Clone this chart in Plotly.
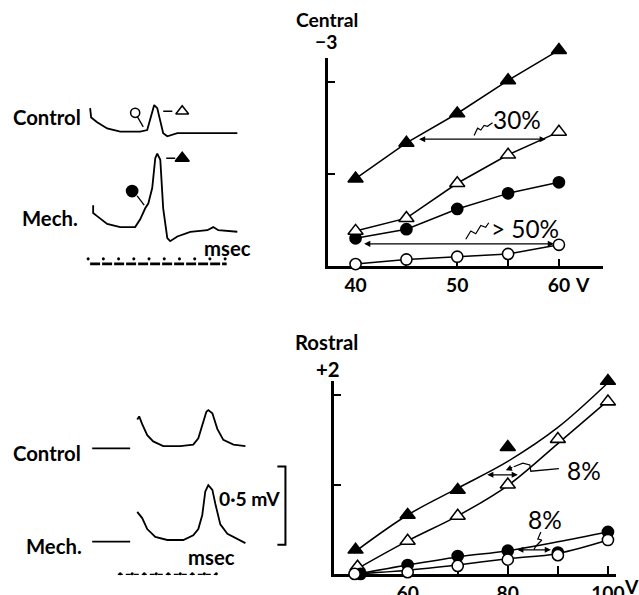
import plotly.graph_objects as go

# reference canvas (all positions below are read in this pixel frame)
REF_W, REF_H = 639, 595
S = 649 / 639          # the page comes out ~1.5% smaller than drawn; compensate
W, H = round(REF_W * S), round(REF_H * S)
FONT = "Lato"

# ---------------- Central (top right) ----------------
central_v = [40, 45, 50, 55, 60]
central_mech_peak = [0.95, 1.34, 1.66, 2.02, 2.35]    # filled triangles
central_ctrl_peak = [0.38, 0.52, 0.90, 1.21, 1.46]    # open triangles
central_mech_early = [0.30, 0.40, 0.62, 0.79, 0.91]   # filled circles
central_ctrl_early = [0.02, 0.07, 0.10, 0.13, 0.23]   # open circles
central_tickvals = [40, 45, 50, 55, 60]
central_ticktext = ["40", "", "50", "", "60"]

# ---------------- Rostral (bottom right) ----------------
rostral_mech_peak_v = [49.6, 60, 70, 80, 100]
rostral_mech_peak = [0.27, 0.66, 0.94, 1.42, 2.16]
rostral_ctrl_peak_v = [50, 60, 70, 80, 90, 100]
rostral_ctrl_peak = [0.08, 0.37, 0.65, 1.00, 1.51, 1.93]
rostral_mech_early_v = [50.6, 60, 70, 80, 90, 100]
rostral_mech_early = [0.0, 0.10, 0.20, 0.26, 0.24, 0.47]
rostral_ctrl_early_v = [49.4, 60, 70, 80, 90, 100]
rostral_ctrl_early = [0.0, 0.02, 0.09, 0.16, 0.21, 0.38]
# fitted curves drawn through the points
fit_v = [50, 60, 70, 80, 90, 100]
fit_mech_peak = [0.27, 0.66, 0.96, 1.26, 1.64, 2.14]
fit_ctrl_peak = [0.06, 0.37, 0.65, 0.99, 1.46, 1.94]
fit_mech_early = [0.0, 0.10, 0.19, 0.26, 0.36, 0.47]
fit_ctrl_early = [0.0, 0.04, 0.10, 0.17, 0.23, 0.38]
rostral_tickvals = [50, 60, 70, 80, 90, 100]
rostral_ticktext = ["", "60", "", "80", "", "100"]

# ---------------- Central records (top left), t in msec, v in mV ----------------
c_ctrl_t = [0.13, 0.20, 0.59, 1.25, 2.11, 3.42, 3.88, 4.21, 4.34, 4.54, 4.74, 4.93, 5.20, 5.86, 7.37, 9.80]
c_ctrl_v = [1.04, 0.98, 0.95, 0.91, 0.89, 0.89, 0.90, 1.01, 1.06, 1.04, 0.96, 0.88, 0.86, 0.88, 0.88, 0.88]
c_mech_t = [0.33, 0.33, 0.59, 1.25, 2.11, 3.09, 3.42, 3.75, 3.95, 4.21, 4.41, 4.54, 4.74, 4.93, 5.20, 5.39,
            5.86, 6.71, 7.83, 8.22, 8.55, 9.80]
c_mech_v = [0.42, 0.37, 0.35, 0.30, 0.28, 0.28, 0.33, 0.40, 0.43, 0.53, 0.72, 0.75, 0.71, 0.40, 0.21, 0.19,
            0.22, 0.25, 0.26, 0.28, 0.26, 0.25]
c_time_marks = [0, 1, 2, 3, 4, 5, 6, 7, 8, 9]

# ---------------- Rostral records (bottom left) ----------------
r_ctrl_t = [1.42, 1.58, 1.83, 2.25, 2.75, 3.58, 5.00, 6.08, 6.50, 6.83, 7.17, 7.33, 7.67, 8.08, 8.58, 9.42, 10.42]
r_ctrl_v = [1.07, 1.09, 1.04, 0.97, 0.93, 0.90, 0.90, 0.91, 0.95, 1.04, 1.12, 1.13, 1.11, 1.01, 0.94, 0.91, 0.90]
r_mech_t = [1.42, 1.83, 2.25, 2.92, 3.92, 5.25, 6.08, 6.50, 6.83, 7.08, 7.33, 7.67, 7.92, 8.33, 8.92, 10.42]
r_mech_v = [0.48, 0.44, 0.37, 0.32, 0.30, 0.30, 0.33, 0.37, 0.46, 0.61, 0.65, 0.62, 0.53, 0.40, 0.34, 0.28]
r_time_marks = [0, 1, 2, 3, 4, 5, 6, 7, 8]

BLACK = "black"
fig = go.Figure()


def sz(v):
    return v * S


def series(x, y, xa, ya, symbol, filled, size, mode="lines+markers", shape="linear"):
    fig.add_trace(go.Scatter(
        x=x, y=y, xaxis=xa, yaxis=ya, mode=mode, cliponaxis=False,
        line=dict(color=BLACK, width=sz(1.5), shape=shape),
        marker=dict(symbol=symbol, size=sz(size), color=BLACK if filled else "white",
                    line=dict(color=BLACK, width=sz(1.5))),
        showlegend=False, hoverinfo="skip"))


def line(x, y, xa, ya, width=1.5, dash="solid", shape="linear"):
    fig.add_trace(go.Scatter(x=x, y=y, xaxis=xa, yaxis=ya, mode="lines", cliponaxis=False,
                             line=dict(color=BLACK, width=sz(width), dash=dash, shape=shape),
                             showlegend=False, hoverinfo="skip"))


# invisible anchors so the framed axes are drawn
for xa, ya in (("x", "y"), ("x2", "y2")):
    fig.add_trace(go.Scatter(x=[None], y=[None], xaxis=xa, yaxis=ya, mode="markers",
                             showlegend=False, hoverinfo="skip"))

# Central plot (data on y5, which shares the scale of y but extends higher)
series(central_v, central_ctrl_early, "x", "y5", "circle", False, 11)
series(central_v, central_mech_early, "x", "y5", "circle", True, 11)
series(central_v, central_ctrl_peak, "x", "y5", "triangle-up", False, 13)
series(central_v, central_mech_peak, "x", "y5", "triangle-up", True, 13)
# squiggles
line([51.66, 52.0, 52.32, 52.64, 52.98, 53.47], [1.42, 1.50, 1.48, 1.53, 1.52, 1.56], "x", "y5", 1.2)
line([50.84, 51.33, 51.82, 52.32, 52.8, 53.1], [0.29, 0.38, 0.35, 0.44, 0.42, 0.47], "x", "y5", 1.2)

# Rostral plot: fitted curves then points
line(fit_v, fit_mech_peak, "x2", "y6", shape="spline")
line(fit_v, fit_ctrl_peak, "x2", "y6", shape="spline")
line(fit_v, fit_mech_early, "x2", "y6", shape="spline")
line(fit_v, fit_ctrl_early, "x2", "y6", shape="spline")
series(rostral_mech_peak_v, rostral_mech_peak, "x2", "y6", "triangle-up", True, 13, mode="markers")
series(rostral_ctrl_peak_v, rostral_ctrl_peak, "x2", "y6", "triangle-up", False, 13, mode="markers")
series(rostral_mech_early_v, rostral_mech_early, "x2", "y6", "circle", True, 11, mode="markers")
series(rostral_ctrl_early_v, rostral_ctrl_early, "x2", "y6", "circle", False, 11, mode="markers")
# leaders
line([90.2, 84.6, 84.4, 83.0, 81.2], [1.18, 1.15, 1.22, 1.24, 1.20], "x2", "y6", 1.2)
line([86.6, 86.0, 86.8, 85.6, 85.2], [0.47, 0.39, 0.38, 0.31, 0.27], "x2", "y6", 1.2)

# Central records
line(c_ctrl_t, c_ctrl_v, "x3", "y3", 1.8)
line(c_mech_t, c_mech_v, "x3", "y3", 1.8)
line([3.09, 3.62], [1.01, 0.92], "x3", "y3", 1.3)
series([3.09], [1.01], "x3", "y3", "circle", False, 9, mode="markers")
line([4.93, 5.53], [1.02, 1.02], "x3", "y3", 1.3)
series([6.18], [1.02], "x3", "y3", "triangle-up", False, 11, mode="markers")
line([3.22, 3.68], [0.48, 0.42], "x3", "y3", 1.3)
series([2.89], [0.51], "x3", "y3", "circle", True, 11, mode="markers")
line([5.13, 5.72], [0.72, 0.72], "x3", "y3", 1.3)
series([6.18], [0.72], "x3", "y3", "triangle-up", True, 12, mode="markers")
fig.add_trace(go.Scatter(x=c_time_marks, y=[0.077] * len(c_time_marks), xaxis="x3", yaxis="y3",
                         mode="markers", marker=dict(color=BLACK, size=sz(3)), showlegend=False,
                         hoverinfo="skip", cliponaxis=False))
line([0.13, 9.1], [0.045, 0.045], "x3", "y3", 2.6, "10px,2px")

# Rostral records
line(r_ctrl_t, r_ctrl_v, "x4", "y4", 1.8)
line(r_mech_t, r_mech_v, "x4", "y4", 1.8)
line([-2.33, 0.83], [0.885, 0.885], "x4", "y4", 1.8)
line([-2.33, 0.83], [0.29, 0.29], "x4", "y4", 1.8)
line([13.08, 13.75, 13.75, 13.08], [0.77, 0.77, 0.27, 0.27], "x4", "y4", 2.0)
fig.add_trace(go.Scatter(x=r_time_marks, y=[0.085] * len(r_time_marks), xaxis="x4", yaxis="y4",
                         mode="markers", marker=dict(color=BLACK, size=sz(3)), showlegend=False,
                         hoverinfo="skip", cliponaxis=False))
line([-0.2, 8.0], [0.08, 0.08], "x4", "y4", 1.3, "5px,3px")


def px_x(p):
    return p / REF_W


def px_y(p):
    return 1 - p / REF_H


axis_common = dict(showline=True, linewidth=sz(2.5), linecolor=BLACK, showgrid=False, zeroline=False,
                   ticks="inside", tickcolor=BLACK, tickwidth=sz(2), fixedrange=True)
tickfont = dict(family=FONT, size=sz(19), color=BLACK, weight="bold")

fig.update_layout(
    width=W, height=H, autosize=False, margin=dict(l=0, r=0, t=0, b=0),
    paper_bgcolor="white", plot_bgcolor="rgba(0,0,0,0)", showlegend=False,
    xaxis=dict(axis_common, domain=[px_x(327), px_x(602)], range=[37.24, 64.33], anchor="y",
               tickvals=central_tickvals, ticktext=central_ticktext, ticklen=sz(7), tickfont=tickfont),
    yaxis=dict(axis_common, domain=[px_y(265), px_y(58)], range=[0, 2.262], anchor="x",
               tickvals=[1, 2], ticklen=sz(8), showticklabels=False),
    yaxis5=dict(domain=[px_y(265), px_y(40)], range=[0, 225 / 91.5], anchor="x", visible=False),
    xaxis2=dict(axis_common, domain=[px_x(333), px_x(615)], range=[45.2, 101.6], anchor="y2",
                tickvals=rostral_tickvals, ticktext=rostral_ticktext, ticklen=sz(8), tickfont=tickfont),
    yaxis2=dict(axis_common, domain=[px_y(572), px_y(380)], range=[0, 2.157], anchor="x2",
                tickvals=[1, 2], ticklen=sz(8), showticklabels=False),
    yaxis6=dict(domain=[px_y(572), px_y(360)], range=[0, 212 / 89], anchor="x2", visible=False),
    xaxis3=dict(domain=[px_x(80), px_x(260)], range=[-0.526, 11.316], visible=False, anchor="y3"),
    yaxis3=dict(domain=[px_y(270), px_y(95)], range=[0, 1.122], visible=False, anchor="x3"),
    xaxis4=dict(domain=[px_x(85), px_x(300)], range=[-2.917, 15.0], visible=False, anchor="y4"),
    yaxis4=dict(domain=[px_y(585), px_y(395)], range=[0, 1.218], visible=False, anchor="x4"),
)

ann = []
DY = -1


def text(t, x, y, size=19, bold=True, xref="paper", yref="paper"):
    ann.append(dict(text=t, x=x, y=y, xref=xref, yref=yref, showarrow=False, xanchor="center",
                    yanchor="middle", yshift=DY, font=dict(family=FONT, size=sz(size), color=BLACK,
                                                           weight="bold" if bold else "normal")))


text("Central", px_x(326), px_y(18), 19)
text("\u22123", px_x(325), px_y(40), 19)
text("Rostral", px_x(326), px_y(340), 20)
text("+2", px_x(327), px_y(367), 20)
text("Control", px_x(46.5), px_y(116), 20)
text("Mech.", px_x(50), px_y(216), 20)
text("msec", px_x(227), px_y(246), 20)
text("Control", px_x(46.5), px_y(450), 20)
text("Mech.", px_x(53.5), px_y(543), 20)
text("0\u00b75 mV", px_x(249), px_y(496), 19)
text("msec", px_x(211.5), px_y(554), 20)
text("V", px_x(582), px_y(283), 19)
text("V", px_x(631), px_y(584), 19)
text("30%", 55.9, 1.61, 24, False, "x", "y5")
text("&gt; 50%", 56.7, 0.42, 24, False, "x", "y5")
text("8%", 95.2, 1.17, 24, False, "x2", "y6")
text("8%", 87.4, 0.62, 24, False, "x2", "y6")


def arrow(x0, y0, x1, y1, xr, yr, both=True):
    ann.append(dict(x=x1, y=y1, ax=x0, ay=y0, xref=xr, yref=yr, axref=xr, ayref=yr, text="",
                    showarrow=True, arrowhead=2, arrowsize=1.0, arrowwidth=sz(1.2), arrowcolor=BLACK,
                    arrowside="end+start" if both else "end"))


arrow(46.1, 1.38, 58.7, 1.38, "x", "y5")
arrow(40.7, 0.24, 59.5, 0.24, "x", "y5")
arrow(75.6, 1.11, 82.0, 1.11, "x2", "y6")
arrow(81.2, 1.20, 79.6, 1.16, "x2", "y6", both=False)
arrow(81.6, 0.27, 88.6, 0.27, "x2", "y6")

fig.update_layout(annotations=ann)
fig.write_html(
    "out.html",
    config={"responsive": False, "displayModeBar": False},
    post_script="document.body.style.margin='0px';document.body.style.overflow='hidden';",
)
